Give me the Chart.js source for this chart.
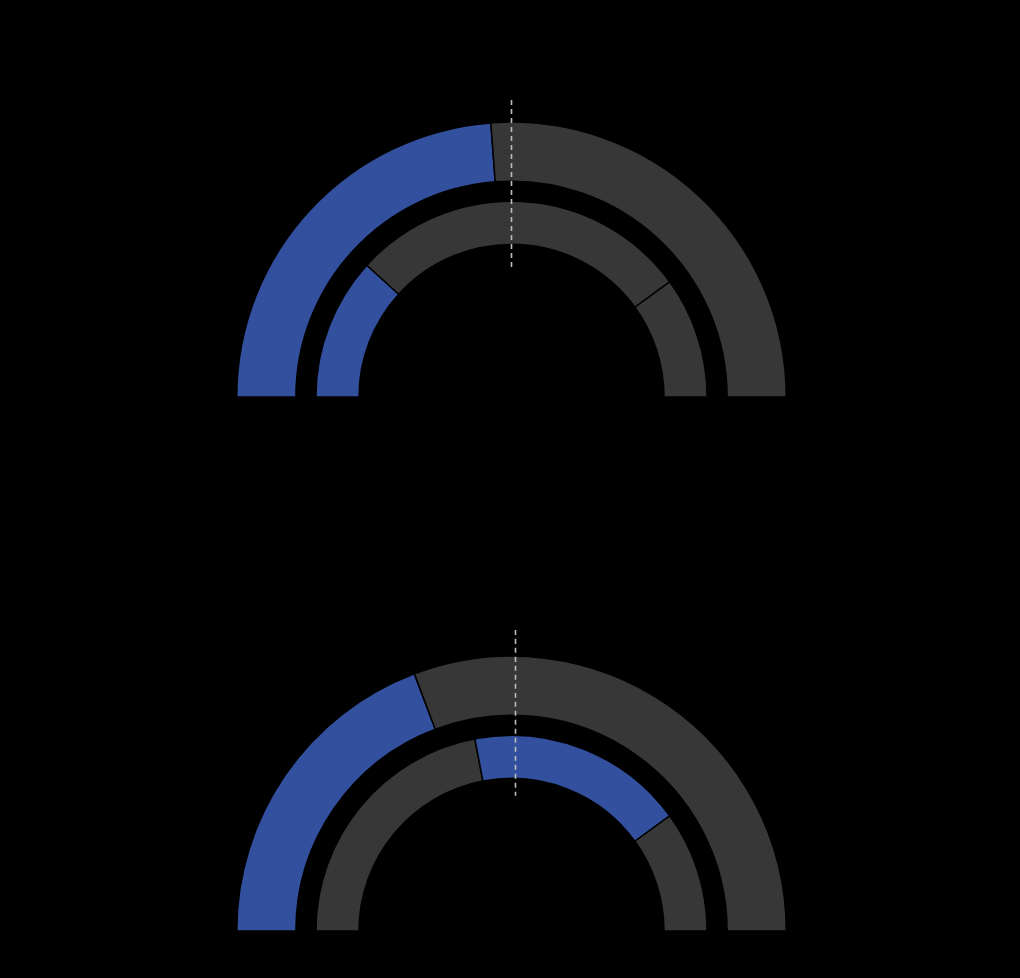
<!DOCTYPE html>
<html>
<head>
<meta charset="utf-8">
<script src="https://cdn.jsdelivr.net/npm/chart.js@4"></script>
<style>
    html, body { margin: 0; padding: 0; background: #000; }
    body { width: 1020px; height: 978px; position: relative; overflow: hidden; }
    .box { position: absolute; left: 235.5px; width: 551px; height: 307px; }
</style>
</head>
<body>
<div class="box" style="top:90.5px"><canvas id="topChart"></canvas></div>
<div class="box" style="top:624.5px"><canvas id="bottomChart"></canvas></div>
<script>
const BLUE = "#33509f";
const GRAY = "#373738";

// top gauge
const topOuter = [47.6, 52.4];
const topOuterColors = [BLUE, GRAY];
const topInner = [23.5, 56.5, 20];
const topInnerColors = [BLUE, GRAY, GRAY];

// bottom gauge
const bottomOuter = [38.5, 61.5];
const bottomOuterColors = [BLUE, GRAY];
const bottomInner = [44, 36, 20];
const bottomInnerColors = [GRAY, BLUE, GRAY];

// dashed marker line
const markerLine = {
    id: "markerLine",
    afterDatasetsDraw(chart, args, opts) {
        const arc = chart.getDatasetMeta(0).data[0];
        if (!arc) return;
        const ctx = chart.ctx;
        const x = arc.x + opts.dx;
        ctx.save();
        ctx.strokeStyle = "#bdbdbd";
        ctx.lineWidth = 1.6;
        ctx.setLineDash([5, 4]);
        ctx.beginPath();
        ctx.moveTo(x, arc.y - opts.from);
        ctx.lineTo(x, arc.y - opts.to);
        ctx.stroke();
        ctx.restore();
    }
};

function renderGauge(canvasId, outer, outerColors, inner, innerColors, marker) {
    return new Chart(document.getElementById(canvasId), {
        type: "doughnut",
        data: {
            datasets: [
                { data: outer, backgroundColor: outerColors, borderColor: "#000", borderWidth: 1.5, weight: 59 },
                { data: [1], backgroundColor: "rgba(0,0,0,0)", borderWidth: 0, weight: 20 },
                { data: inner, backgroundColor: innerColors, borderColor: "#000", borderWidth: 1.5, weight: 43 }
            ]
        },
        options: {
            responsive: true,
            maintainAspectRatio: false,
            animation: false,
            rotation: -90,
            circumference: 180,
            cutout: "55.5%",
            layout: { padding: { top: 30 } },
            plugins: {
                legend: { display: false },
                tooltip: { enabled: false },
                markerLine: marker
            }
        },
        plugins: [markerLine]
    });
}

renderGauge("topChart", topOuter, topOuterColors, topInner, topInnerColors, { dx: 0, from: 297, to: 129 });
renderGauge("bottomChart", bottomOuter, bottomOuterColors, bottomInner, bottomInnerColors, { dx: 4, from: 301, to: 135 });
</script>
</body>
</html>
